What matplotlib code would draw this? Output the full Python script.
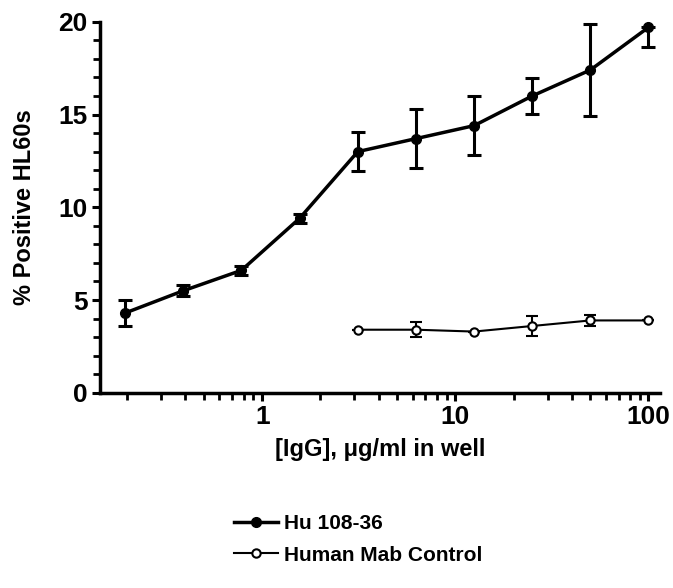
import numpy as np
import matplotlib.pyplot as plt
from matplotlib.lines import Line2D
from matplotlib.ticker import MultipleLocator, LogLocator, FixedLocator, NullFormatter

# data
conc_hu = [0.195, 0.39, 0.78, 1.56, 3.125, 6.25, 12.5, 25, 50, 100]
hu_mean = [4.3, 5.5, 6.6, 9.4, 13.0, 13.7, 14.4, 16.0, 17.4, 19.7]
hu_err_lo = [0.7, 0.3, 0.25, 0.25, 1.05, 1.6, 1.6, 0.95, 2.5, 1.05]
hu_err_hi = [0.7, 0.3, 0.25, 0.25, 1.05, 1.6, 1.6, 0.95, 2.5, 0.0]

conc_ctl = [3.125, 6.25, 12.5, 25, 50, 100]
ctl_mean = [3.4, 3.4, 3.3, 3.6, 3.9, 3.9]
ctl_err = [0.0, 0.4, 0.0, 0.55, 0.3, 0.0]

plt.rcParams['font.family'] = ['Liberation Sans', 'DejaVu Sans']
plt.rcParams['font.weight'] = 'bold'

fig = plt.figure(figsize=(6.73, 5.88), dpi=100)
ax = fig.add_axes([0.149, 0.332, 0.832, 0.631])

ax.errorbar(conc_hu, hu_mean, yerr=[hu_err_lo, hu_err_hi], color='black', lw=2.5,
            marker='o', ms=7, capsize=5, elinewidth=2.2, capthick=2.2,
            clip_on=False)
ax.errorbar(conc_ctl, ctl_mean, yerr=ctl_err, color='black', lw=1.5,
            marker='o', ms=6, mfc='white', mew=1.5, capsize=4, elinewidth=1.5,
            capthick=1.5, clip_on=False)

ax.set_xscale('log')
ax.set_xlim(0.145, 115)
ax.set_ylim(0, 20)
ax.xaxis.set_major_locator(FixedLocator([1, 10, 100]))
ax.xaxis.set_major_formatter(plt.FuncFormatter(lambda v, p: '%g' % v))
ax.xaxis.set_minor_locator(LogLocator(base=10, subs=np.arange(2, 10)))
ax.xaxis.set_minor_formatter(NullFormatter())
ax.yaxis.set_major_locator(MultipleLocator(5))
ax.yaxis.set_minor_locator(MultipleLocator(1))

for s in ['top', 'right']:
    ax.spines[s].set_visible(False)
for s in ['left', 'bottom']:
    ax.spines[s].set_linewidth(2.5)

ax.tick_params(which='major', length=6, width=2.2, labelsize=19, pad=3)
ax.tick_params(which='minor', length=5, width=2)
for lab in ax.get_xticklabels() + ax.get_yticklabels():
    lab.set_fontweight('bold')

ax.set_xlabel('[IgG], μg/ml in well', fontsize=17, fontweight='bold', labelpad=6)
ax.set_ylabel('% Positive HL60s', fontsize=17, fontweight='bold', labelpad=16)

handles = [
    Line2D([], [], color='black', lw=2.5, marker='o', ms=7),
    Line2D([], [], color='black', lw=1.5, marker='o', ms=6, mfc='white', mew=1.5),
]
fig.legend(handles, ['Hu 108-36', 'Human Mab Control'], loc='upper left',
           bbox_to_anchor=(0.335, 0.14), frameon=False, fontsize=15,
           handlelength=2.1, handletextpad=0.3, labelspacing=0.6,
           borderaxespad=0)

fig.savefig('out.png', dpi=100)
